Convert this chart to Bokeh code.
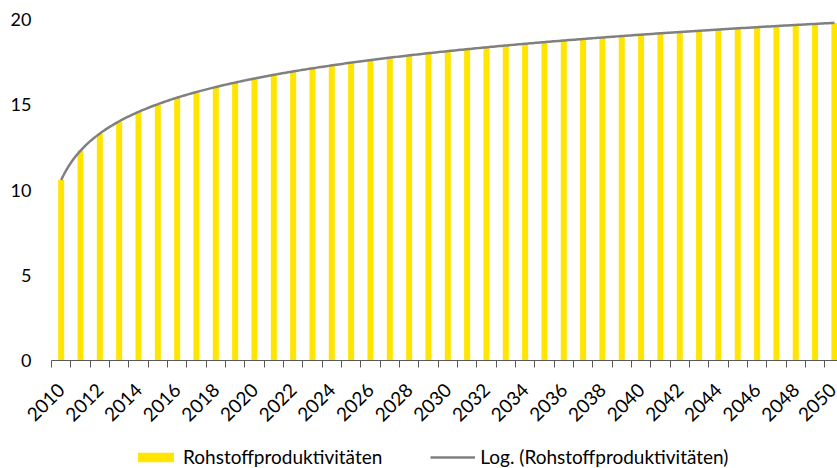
import numpy as np
from math import pi
from bokeh.plotting import figure
from bokeh.layouts import column
from bokeh.models import Range1d, FixedTicker, Legend, LegendItem, ColumnDataSource
from bokeh.embed import file_html
from bokeh.resources import INLINE

years = list(range(2010, 2051))
values = [10.6, 12.3, 13.3, 14.0, 14.6, 15.0, 15.4, 15.8, 16.0, 16.3,
          16.5, 16.8, 17.0, 17.1, 17.3, 17.5, 17.6, 17.8, 17.9, 18.0,
          18.1, 18.3, 18.4, 18.5, 18.6, 18.7, 18.8, 18.9, 18.9, 19.0,
          19.1, 19.2, 19.3, 19.3, 19.4, 19.5, 19.5, 19.6, 19.7, 19.7, 19.8]
x_tick_years = list(range(2010, 2051, 2))
y_ticks = [0, 5, 10, 15, 20]
series_label = "Rohstoffproduktivitäten"
trend_label = "Log. (Rohstoffproduktivitäten)"

FONT = "Lato"
TXT = "#000000"
BAR_COLOR = "#FFE500"
TREND_COLOR = "#808080"

# logarithmic trendline (least squares fit of the bar data, like Excel)
idx = np.arange(1, len(values) + 1)
a, b = np.polyfit(np.log(idx), np.array(values), 1)
t = np.linspace(1, len(values), 400)
trend_x = years[0] - 1 + t
trend_y = a * np.log(t) + b

p = figure(width=837, height=430, output_backend="svg", toolbar_location=None,
           x_range=Range1d(2009.5, 2050.16), y_range=Range1d(0, 20),
           min_border_left=51, min_border_right=0, min_border_top=19,
           min_border_bottom=69)
p.outline_line_color = None
p.xgrid.grid_line_color = None
p.ygrid.grid_line_color = None
p.background_fill_color = "white"
p.border_fill_color = "white"

src = ColumnDataSource(dict(x=years, top=values))
bars = p.vbar(x="x", top="top", width=0.31, bottom=0, source=src,
              fill_color=BAR_COLOR, line_color=None)
trend = p.line(trend_x, trend_y, line_color=TREND_COLOR, line_width=2.5)

# axes
xa = p.xaxis[0]
xa.ticker = FixedTicker(ticks=x_tick_years,
                        minor_ticks=[y - 0.5 for y in years] + [years[-1] + 0.5])
xa.axis_line_color = "#595959"
xa.axis_line_width = 1
xa.major_tick_line_color = None
xa.major_tick_out = 0
xa.major_tick_in = 0
xa.minor_tick_line_color = "#595959"
xa.minor_tick_out = 7
xa.minor_tick_in = 0
xa.major_label_orientation = pi / 4
xa.major_label_standoff = 19
xa.major_label_text_font = FONT
xa.major_label_text_font_size = "19px"
xa.major_label_text_color = TXT

ya = p.yaxis[0]
ya.ticker = FixedTicker(ticks=y_ticks)
ya.axis_line_color = None
ya.major_tick_line_color = None
ya.major_tick_out = 0
ya.major_tick_in = 0
ya.minor_tick_line_color = None
ya.major_label_standoff = 20
ya.major_label_text_font = FONT
ya.major_label_text_font_size = "18px"
ya.major_label_text_color = TXT

# legend strip below the chart (proxy glyphs sit outside its visible range)
pl = figure(width=837, height=38, output_backend="svg", toolbar_location=None,
            x_range=Range1d(-10, -9), y_range=Range1d(-10, -9),
            x_axis_location=None, y_axis_location=None,
            min_border_left=0, min_border_right=0, min_border_top=0,
            min_border_bottom=0)
pl.outline_line_color = None
pl.grid.visible = False
pl.background_fill_color = "white"
pl.border_fill_color = "white"
lg_src = ColumnDataSource(dict(x=[years[0], years[1]], y=[values[0], values[1]]))
lg_bar = pl.vbar(x="x", top="y", width=0.31, source=lg_src,
                 fill_color=BAR_COLOR, line_color=None)
lg_line = pl.line(x="x", y="y", source=lg_src, line_color=TREND_COLOR, line_width=2.5)

legend = Legend(items=[LegendItem(label=series_label, renderers=[lg_bar]),
                       LegendItem(label=trend_label, renderers=[lg_line])],
                orientation="horizontal", location=(82, 0),
                glyph_width=45, glyph_height=12, label_standoff=5, spacing=48,
                padding=0, margin=0, border_line_color=None,
                background_fill_alpha=0,
                label_text_font=FONT, label_text_font_size="19px",
                label_text_color=TXT)
pl.add_layout(legend, "center")

layout = column(p, pl, spacing=0)
open("out.html", "w").write(file_html(layout, INLINE))
